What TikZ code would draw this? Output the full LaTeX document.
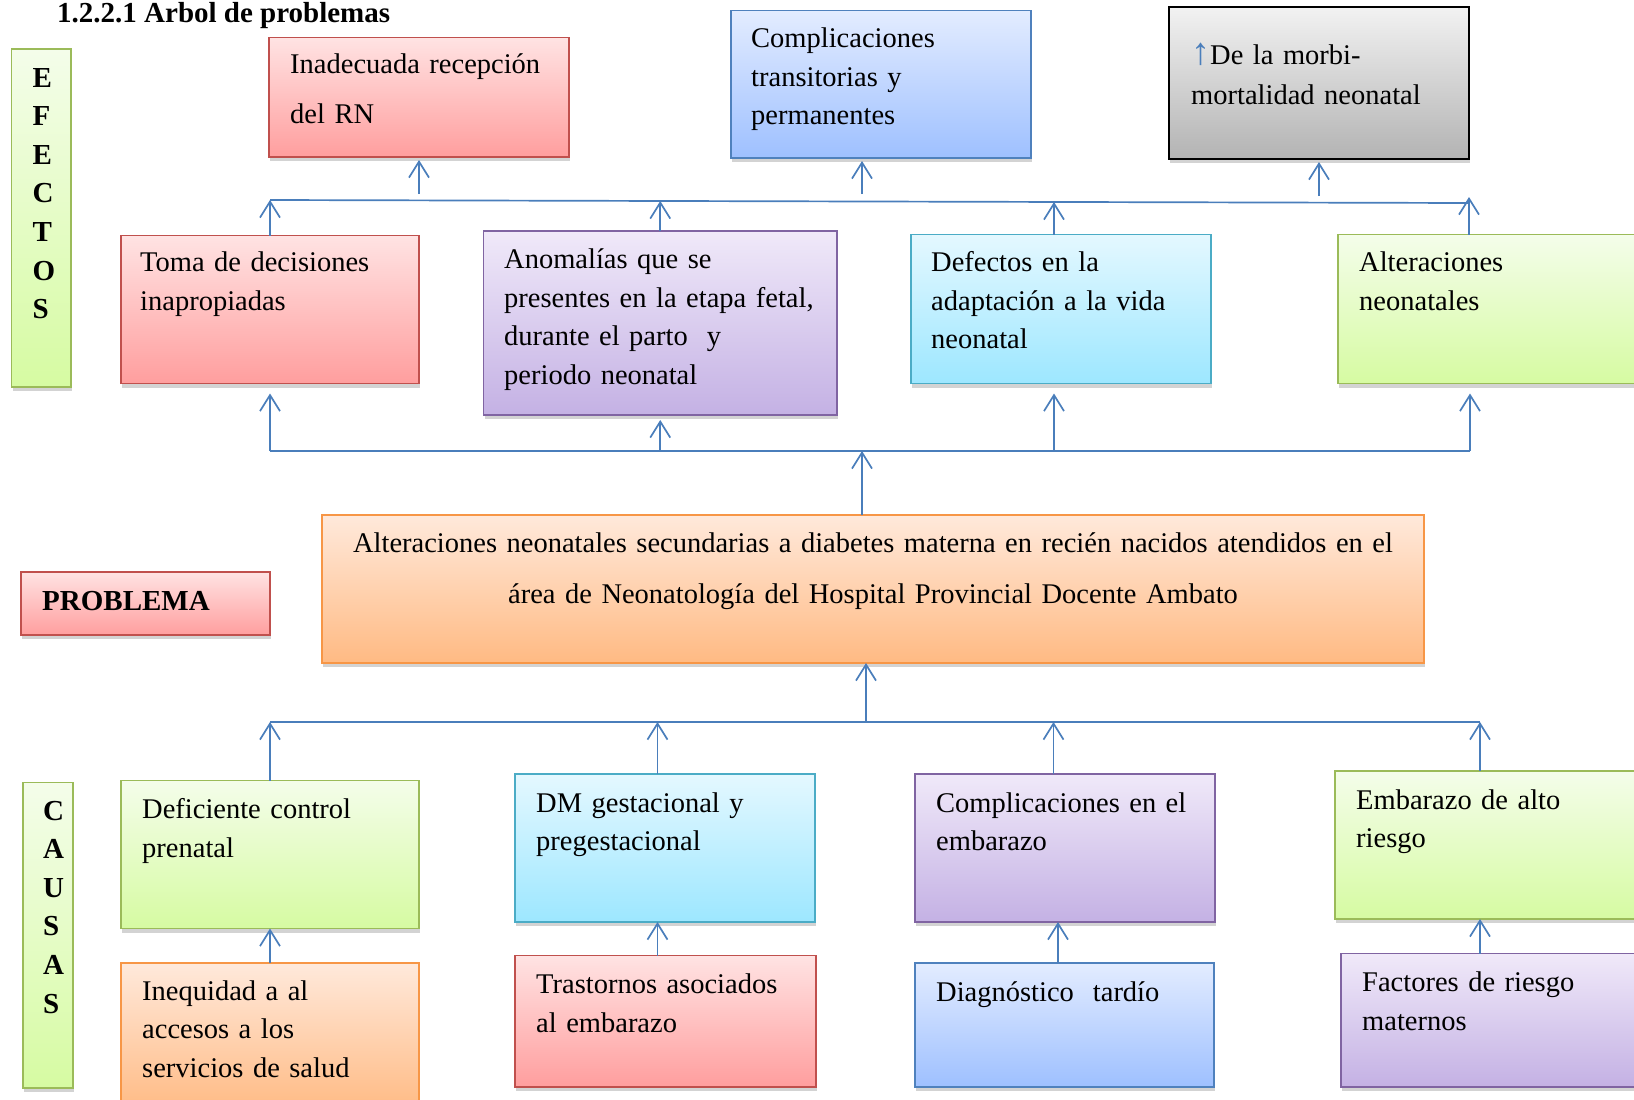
\documentclass[tikz,border=0pt]{standalone}
\usepackage{fontspec}
\setmainfont{Liberation Serif}
\usetikzlibrary{arrows.meta,shadows,positioning}

\definecolor{linkblue}{HTML}{4A7EBB}
\definecolor{redtop}{HTML}{FFE3E3}
\definecolor{redbot}{HTML}{FF9E9E}
\definecolor{redline}{HTML}{C0504D}
\definecolor{bluetop}{HTML}{E3ECFF}
\definecolor{bluebot}{HTML}{9EC0FF}
\definecolor{blueline}{HTML}{4F81BD}
\definecolor{graytop}{HTML}{F2F2F2}
\definecolor{graybot}{HTML}{B3B3B3}
\definecolor{purptop}{HTML}{F0E9F9}
\definecolor{purpbot}{HTML}{C4B1E4}
\definecolor{purpline}{HTML}{8064A2}
\definecolor{cyantop}{HTML}{E4F8FF}
\definecolor{cyanbot}{HTML}{9DE7FF}
\definecolor{cyanline}{HTML}{4BACC6}
\definecolor{greentop}{HTML}{F4FDEA}
\definecolor{greenbot}{HTML}{D6FBA2}
\definecolor{greenline}{HTML}{9BBB59}
\definecolor{orngtop}{HTML}{FFE9DB}
\definecolor{orngbot}{HTML}{FFBA83}
\definecolor{orngline}{HTML}{F79646}

\tikzset{
  box/.style={draw, line width=1.5pt, anchor=north west, inner sep=0pt, outer sep=0pt,
    drop shadow={shadow xshift=1pt, shadow yshift=-4pt, opacity=0.35}},
  redbox/.style={box, draw=redline, top color=redtop, bottom color=redbot},
  bluebox/.style={box, draw=blueline, top color=bluetop, bottom color=bluebot},
  graybox/.style={box, draw=black, line width=2.2pt, top color=graytop, bottom color=graybot},
  purplebox/.style={box, draw=purpline, top color=purptop, bottom color=purpbot},
  cyanbox/.style={box, draw=cyanline, top color=cyantop, bottom color=cyanbot},
  greenbox/.style={box, draw=greenline, top color=greentop, bottom color=greenbot},
  orangebox/.style={box, draw=orngline, top color=orngtop, bottom color=orngbot},
  txt/.style={anchor=base west, inner sep=0pt, text width=#1, align=left,
    font=\fontsize{28.5}{38.7}\selectfont},
  txt/.default=300pt,
  vlbl/.style={txt=40pt, font=\fontsize{29}{38.6}\selectfont\bfseries},
  arr/.style={draw=linkblue, line width=1.7pt, -{Straight Barb[length=16pt,width=20pt]}},
  bar/.style={draw=linkblue, line width=1.7pt},
}

\begin{document}
\begin{tikzpicture}[x=1pt,y=-1pt]
\useasboundingbox (0,0) rectangle (1634,1100);
\clip (0,0) rectangle (1634,1100);

% titulo
\node[anchor=base west, inner sep=0pt, font=\fontsize{29}{35}\selectfont\bfseries] (titulo)
  at (57,22) {1.2.2.1 Arbol de problemas};

% efectos
\node[greenbox, minimum width=59.5pt, minimum height=338pt] (efectos) at (11.5,49) {};
\node[vlbl] (efectoslbl) at ([shift={(21,38)}]efectos.north west) {E\\F\\E\\C\\T\\O\\S};

\node[redbox, minimum width=300pt, minimum height=119.5pt] (inadecuada) at (269,37.5) {};
\node[txt, font=\fontsize{28.5}{50}\selectfont] (inadecuadatxt)
  at ([shift={(21,36)}]inadecuada.north west) {Inadecuada recepción\\del RN};

\node[bluebox, minimum width=300pt, minimum height=147.5pt] (complic) at (731,10.5) {};
\node[txt] (complictxt) at ([shift={(20,37)}]complic.north west)
  {Complicaciones\\transitorias y\\permanentes};

\node[graybox, minimum width=300pt, minimum height=152pt] (morbi) at (1169,7) {};
\node[txt, font=\fontsize{28.5}{40}\selectfont] (morbitxt) at ([shift={(22,57)}]morbi.north west)
  {{\color{linkblue}\fontsize{38}{38}\selectfont ↑}De la morbi-\\mortalidad neonatal};

\node[redbox, minimum width=298pt, minimum height=148pt] (toma) at (121,235.5) {};
\node[txt] (tomatxt) at ([shift={(19,36)}]toma.north west) {Toma de decisiones\\inapropiadas};

\node[purplebox, minimum width=353.5pt, minimum height=184pt] (anomalias) at (483.5,231) {};
\node[txt=340pt] (anomaliastxt) at ([shift={(20.5,37.5)}]anomalias.north west)
  {Anomalías que se\\presentes en la etapa fetal,\\durante el parto~~y\\periodo neonatal};

\node[cyanbox, minimum width=300pt, minimum height=149pt] (defectos) at (911,234.5) {};
\node[txt] (defectostxt) at ([shift={(20,37)}]defectos.north west)
  {Defectos en la\\adaptación a la vida\\neonatal};

\node[greenbox, minimum width=310pt, minimum height=149pt] (alterac) at (1338,234.5) {};
\node[txt] (alteractxt) at ([shift={(21,37)}]alterac.north west) {Alteraciones\\neonatales};

% problema
\node[orangebox, minimum width=1102pt, minimum height=148pt] (problema) at (322,515) {};
\node[txt=1100pt, align=center, anchor=base, font=\fontsize{28.5}{51}\selectfont] (problematxt)
  at ([shift={(0,37)}]problema.north)
  {Alteraciones neonatales secundarias a diabetes materna en recién nacidos atendidos en el\\
   área de Neonatología del Hospital Provincial Docente Ambato};

\node[redbox, minimum width=249pt, minimum height=63pt] (problbl) at (21,572) {};
\node[txt, font=\fontsize{29}{35}\selectfont\bfseries] (problbltxt)
  at ([shift={(21,38.5)}]problbl.north west) {PROBLEMA};

% causas
\node[greenbox, minimum width=50pt, minimum height=305.5pt] (causas) at (23,782.5) {};
\node[vlbl] (causaslbl) at ([shift={(20,37.5)}]causas.north west) {C\\A\\U\\S\\A\\S};

\node[greenbox, minimum width=298pt, minimum height=148pt] (deficiente) at (121,780.5) {};
\node[txt] (deficientetxt) at ([shift={(21,38)}]deficiente.north west) {Deficiente control\\prenatal};

\node[cyanbox, minimum width=300pt, minimum height=148pt] (dmgest) at (515,774) {};
\node[txt] (dmgesttxt) at ([shift={(21,38)}]dmgest.north west) {DM gestacional y\\pregestacional};

\node[purplebox, minimum width=300pt, minimum height=148pt] (complemb) at (915,774) {};
\node[txt] (complembtxt) at ([shift={(21,38)}]complemb.north west) {Complicaciones en el\\embarazo};

\node[greenbox, minimum width=310pt, minimum height=148pt] (embarazo) at (1335,771) {};
\node[txt] (embarazotxt) at ([shift={(21,38)}]embarazo.north west) {Embarazo de alto\\riesgo};

\node[orangebox, minimum width=298pt, minimum height=150pt] (inequidad) at (121,963) {};
\node[txt] (inequidadtxt) at ([shift={(21,37)}]inequidad.north west)
  {Inequidad a al\\accesos a los\\servicios de salud};

\node[redbox, minimum width=301pt, minimum height=131.5pt] (trastornos) at (515,955.5) {};
\node[txt] (trastornostxt) at ([shift={(21,38)}]trastornos.north west) {Trastornos asociados\\al embarazo};

\node[bluebox, minimum width=299pt, minimum height=124pt] (diagnostico) at (915,963) {};
\node[txt] (diagnosticotxt) at ([shift={(21,38)}]diagnostico.north west) {Diagnóstico~~tardío};

\node[purplebox, minimum width=310pt, minimum height=133.5pt] (factores) at (1341,953.5) {};
\node[txt] (factorestxt) at ([shift={(21,38)}]factores.north west) {Factores de riesgo\\maternos};

% barras
\coordinate (efbarL) at (270,200);
\coordinate (efbarR) at (1469,203);
\coordinate (pbarL) at (270,451);
\coordinate (pbarR) at (1470,451);
\coordinate (cabarL) at (270,722);
\coordinate (cabarR) at (1480,722);
\draw[bar] (efbarL) -- (efbarR);
\draw[bar] (pbarL) -- (pbarR);
\draw[bar] (cabarL) -- (cabarR);

\coordinate (complicx) at ([shift={(-19,3)}]complic.south);
\coordinate (defectosx) at ([xshift=-7pt]defectos.north);
\coordinate (footrow) at ([shift={(0,10)}]toma.south);
\coordinate (problemax) at ([xshift=-11pt]problema.north);
\coordinate (problemay) at ([xshift=-7pt]problema.south);
\coordinate (dmgestx) at ([xshift=-7.5pt]dmgest.north);
\coordinate (complembx) at ([xshift=-11.5pt]complemb.north);
\coordinate (diagnosticox) at ([xshift=-6.5pt]diagnostico.north);

% efectos: flechas
\draw[arr] (toma.north) -- (toma.north |- efbarL);
\draw[arr] (anomalias.north) -- ([yshift=-1pt]anomalias.north |- efbarL);
\draw[arr] (defectosx) -- ([yshift=-2pt]defectosx |- efbarL);
\draw[arr] (efbarR |- alterac.north) -- ([yshift=6pt]efbarR);
\draw[arr] ([yshift=6pt]inadecuada.south |- efbarL) -- ([shift={(0,3)}]inadecuada.south);
\draw[arr] ([yshift=6pt]complicx |- efbarL) -- (complicx);
\draw[arr] ([yshift=4pt]morbi.south |- efbarL) -- ([shift={(0,3)}]morbi.south);

\draw[arr] (toma.south |- pbarL) -- (footrow);
\draw[arr] (anomalias.south |- pbarL) -- ([shift={(0,5)}]anomalias.south);
\draw[arr] (defectosx |- pbarL) -- (defectosx |- footrow);
\draw[arr] (pbarR) -- (pbarR |- footrow);
\draw[arr] (problemax) -- (problemax |- pbarL);

% causas: flechas
\draw[arr] (problemay |- cabarL) -- (problemay);
\draw[arr] (deficiente.north) -- (deficiente.north |- cabarL);
\draw[arr] (dmgestx) -- (dmgestx |- cabarL);
\draw[arr] (complembx) -- (complembx |- cabarL);
\draw[arr] (cabarR |- embarazo.north) -- (cabarR);
\draw[arr] (inequidad.north) -- (deficiente.south);
\draw[arr] (dmgestx |- trastornos.north) -- (dmgestx |- dmgest.south);
\draw[arr] (diagnosticox) -- (diagnosticox |- complemb.south);
\draw[arr] (cabarR |- factores.north) -- (cabarR |- embarazo.south);
\end{tikzpicture}
\end{document}
